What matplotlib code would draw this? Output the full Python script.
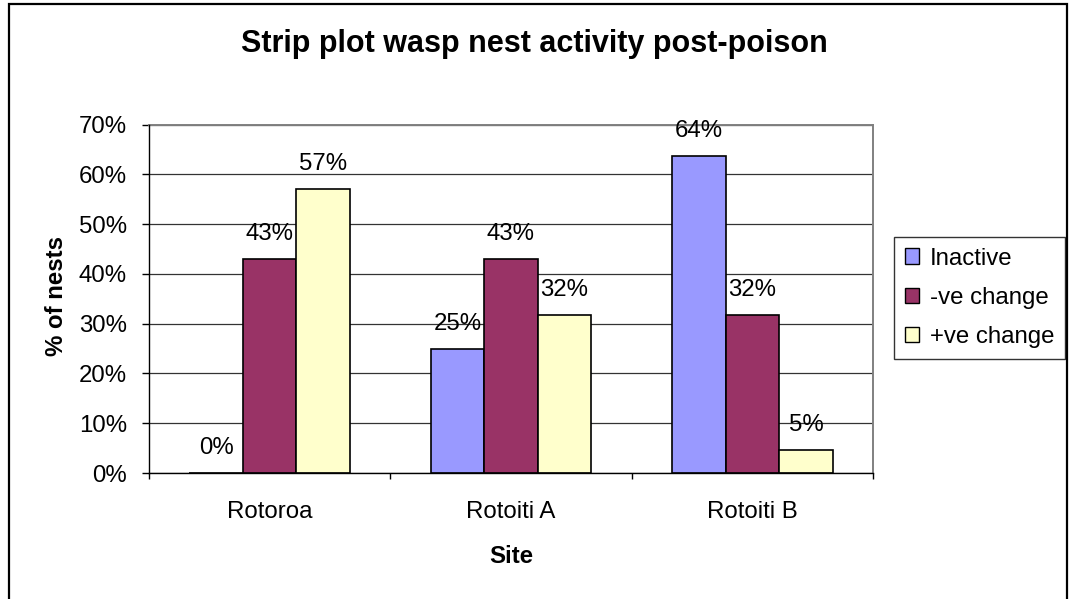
import matplotlib
matplotlib.use("Agg")
import matplotlib.pyplot as plt
import matplotlib.patches as mpatches
import numpy as np

plt.rcParams['font.family'] = ['Liberation Sans', 'DejaVu Sans']

categories = ["Rotoroa", "Rotoiti A", "Rotoiti B"]
series_names = ["Inactive", "-ve change", "+ve change"]
inactive = [0.0, 25.0, 63.6]
neg_change = [42.9, 42.9, 31.8]
pos_change = [57.1, 31.8, 4.6]
series_values = [inactive, neg_change, pos_change]
colors = ["#9999FF", "#993366", "#FFFFCC"]
yticks = [0, 10, 20, 30, 40, 50, 60, 70]

W, H = 1069, 599
FS = 17.3

fig = plt.figure(figsize=(W / 100, H / 100), dpi=100)
ax = fig.add_axes([149 / W, 1 - 473 / H, (873 - 149) / W, (473 - 124.5) / H])

x = np.arange(len(categories))
bw = 1 / 4.5
for i, (name, vals, col) in enumerate(zip(series_names, series_values, colors)):
    xs = x + (i - 1) * bw
    ax.bar(xs, vals, width=bw, color=col, edgecolor='black', linewidth=1.2,
           label=name, zorder=3)
    for xi, v in zip(xs, vals):
        ax.annotate(f"{int(v + 0.5)}%", (xi, v), xytext=(0, 13.7),
                    textcoords='offset points', ha='center', va='baseline',
                    fontsize=FS, zorder=4)

ax.set_xlim(-0.5, len(categories) - 0.5)
ax.set_ylim(0, 70)
ax.set_yticks(yticks)
ax.set_yticklabels([f"{t}%" for t in yticks], fontsize=FS)
ax.tick_params(axis='y', direction='out', length=5, width=1, pad=10.8, colors='black')

ax.set_xticks(x)
ax.set_xticklabels(categories, fontsize=FS)
for lab in ax.get_xticklabels():
    lab.set_va('baseline')
ax.tick_params(axis='x', which='major', length=0, pad=32.4)
ax.set_xticks(np.arange(-0.5, len(categories), 1.0), minor=True)
ax.tick_params(axis='x', which='minor', direction='out', length=4.3, width=1, color='black')

ax.yaxis.grid(True, color='#333333', linewidth=0.9, zorder=0)
ax.set_axisbelow(True)
for s in ['left', 'bottom']:
    ax.spines[s].set_color('black')
    ax.spines[s].set_linewidth(1.0)
    ax.spines[s].set_zorder(5)
for s in ['top', 'right']:
    ax.spines[s].set_color('#808080')
    ax.spines[s].set_linewidth(1.4)

fig.text(534 / W, 1 - 52 / H, "Strip plot wasp nest activity post-poison",
         fontsize=22, fontweight='bold', ha='center', va='baseline')
fig.text(511 / W, 1 - 563 / H, "Site", fontsize=FS, fontweight='bold',
         ha='center', va='baseline')
fig.text(63 / W, 1 - 296 / H, "% of nests", fontsize=FS, fontweight='bold',
         ha='center', va='baseline', rotation=90, rotation_mode='anchor')

leg = ax.legend(loc='upper left', bbox_to_anchor=(894 / W, 1 - 236.7 / H),
                bbox_transform=fig.transFigure, fontsize=FS, frameon=True,
                fancybox=False, shadow=False, borderpad=0.45, labelspacing=0.72,
                handlelength=0.6, handleheight=0.6, handletextpad=0.45,
                borderaxespad=0)
leg.get_frame().set_edgecolor('black')
leg.get_frame().set_linewidth(1.0)
for p in leg.get_patches():
    p.set_linewidth(1.0)

border = mpatches.Rectangle((9 / W, -0.02), (1067 - 9) / W, 1 - 4 / H + 0.02,
                            transform=fig.transFigure, fill=False,
                            edgecolor='black', linewidth=1.6, zorder=10)
fig.patches.append(border)

fig.savefig("out.png", dpi=100)
